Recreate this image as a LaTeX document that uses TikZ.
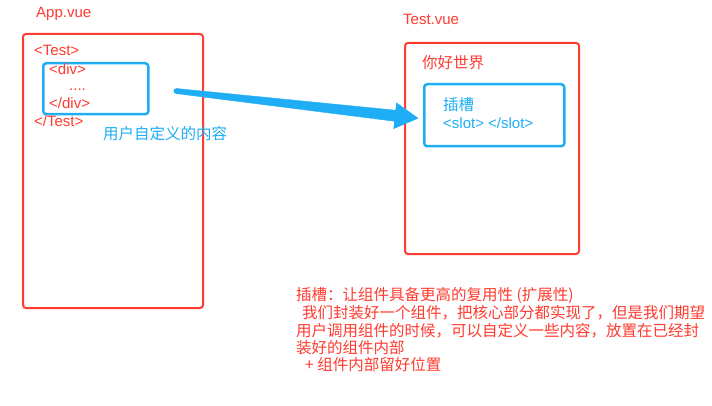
\documentclass[tikz,border=0pt]{standalone}
\usepackage{fontspec}
\setmainfont{Liberation Sans}
\newfontfamily\cjk{Noto Sans CJK SC}
\usetikzlibrary{arrows.meta,calc}
\definecolor{myred}{HTML}{FF3B30}
\definecolor{myblue}{HTML}{1FAEF5}
\tikzset{
  redbox/.style={draw=myred, line width=2pt, rounded corners=3pt, anchor=north west, inner sep=0pt},
  bluebox/.style={draw=myblue, line width=2.5pt, rounded corners=3pt, anchor=north west, inner sep=0pt},
  lbl/.style={anchor=base west, inner sep=0pt, font=\fontsize{15}{18}\selectfont},
  cjklbl/.style={font=\fontsize{15.5}{18}\selectfont\cjk},
  redtxt/.style={lbl, text=myred},
  bluetxt/.style={lbl, text=myblue},
  brush/.style={fill=myblue, draw=myblue, line width=0.4pt, line join=round}
}
\begin{document}
\begin{tikzpicture}[x=1pt,y=-1pt]
\path[fill=white] (0,0) rectangle (712,406);
\useasboundingbox (0,0) rectangle (712,406);
% App.vue
\node[redtxt] (applbl) at (36,18) {App.vue};
\node[redbox, minimum width=180pt, minimum height=274pt] (app) at (22,33) {};
\node[bluebox, minimum width=105pt, minimum height=51pt] (custom) at (42,62) {};
\node[redtxt] (t1) at (34,56) {<Test>};
\node[redtxt] (t2) at (49,75) {<div>};
\node[redtxt] (t3) at (69,91) {....};
\node[redtxt] (t4) at (49,109) {</div>};
\node[redtxt] (t5) at (34,127) {</Test>};
\node[bluetxt, cjklbl] (t6) at (103,140) {用户自定义的内容};
% Test.vue
\node[redtxt] (testlbl) at (403,25) {Test.vue};
\node[redbox, minimum width=174pt, minimum height=211pt] (test) at (404,42) {};
\node[redtxt, cjklbl] (hello) at (422,69) {你好世界};
\node[bluebox, minimum width=140pt, minimum height=62pt] (slot) at (423,83) {};
\node[bluetxt, cjklbl] (s1) at (443,111) {插槽};
\node[bluetxt] (s2) at (443,129) {<slot> </slot>};
% arrow (tapered brush stroke)
\coordinate (arrstart) at (176,91);
\coordinate (tip) at ([xshift=-5pt,yshift=-3pt]slot.west);
\coordinate (base) at ($(tip)+(-22.9,-2.5)$);
\fill[myblue] (arrstart) circle[radius=2.5];
\path[brush] ($(arrstart)+(0.27,-2.5)$) -- ($(base)+(0.6,-5.5)$) -- ($(base)+(1.4,-12.9)$)
  -- (tip) -- ($(base)+(-1.4,12.9)$) -- ($(base)+(-0.6,5.5)$) -- ($(arrstart)+(-0.27,2.5)$) -- cycle;
% notes
\node[redtxt, cjklbl] (n1) at (296,300) {插槽：让组件具备更高的复用性 (扩展性)};
\node[redtxt, cjklbl] (n2) at (302,318) {我们封装好一个组件，把核心部分都实现了，但是我们期望};
\node[redtxt, cjklbl] (n3) at (296,336) {用户调用组件的时候，可以自定义一些内容，放置在已经封};
\node[redtxt, cjklbl] (n4) at (296,353) {装好的组件内部};
\node[redtxt, cjklbl] (n5) at (305,370) {+ 组件内部留好位置};
\end{tikzpicture}
\end{document}
